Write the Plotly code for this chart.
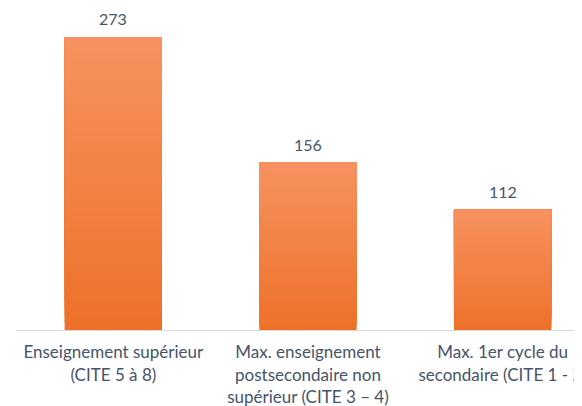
import plotly.graph_objects as go

categories = [
    "Enseignement supérieur<br>(CITE 5 à 8)",
    "Max. enseignement<br>postsecondaire non<br>supérieur (CITE 3 – 4)",
    "Max. 1er cycle du<br>secondaire (CITE 1 - 2)",
]
values = [273, 156, 112]

TOP = (247, 146, 96)
BOTTOM = (237, 113, 41)
N = 40
TXT = "#46546A"
FONT = "Lato"

fig = go.Figure()
xs = list(range(len(categories)))
for k in range(N):
    f = k / (N - 1)
    c = tuple(round(BOTTOM[i] + (TOP[i] - BOTTOM[i]) * f) for i in range(3))
    fig.add_trace(go.Bar(
        x=xs,
        y=[v * (N - k) / N for v in values],
        base=[v * k / N for v in values],
        width=0.5,
        marker=dict(color="rgb(%d,%d,%d)" % c, line=dict(width=0)),
        showlegend=False,
        hoverinfo="skip",
    ))

for x, v in zip(xs, values):
    fig.add_annotation(x=x, y=v, text=str(v), showarrow=False,
                       yanchor="bottom", yshift=7,
                       font=dict(family=FONT, size=16, color=TXT))

fig.update_layout(
    width=574, height=398,
    margin=dict(l=8, r=0, t=0, b=76),
    barmode="overlay",
    paper_bgcolor="white", plot_bgcolor="white",
    xaxis=dict(
        tickmode="array", tickvals=xs, ticktext=categories,
        range=[-0.5, 2.4077],
        showline=True, linecolor="#D9D9D9", linewidth=1,
        showgrid=False, zeroline=False,
        ticks="outside", ticklen=7, tickcolor="rgba(0,0,0,0)",
        tickfont=dict(family=FONT, size=17, color=TXT),
        ticklabeloverflow="allow",
        tickangle=0, automargin=False,
    ),
    yaxis=dict(range=[0, 300.0], visible=False, showgrid=False, zeroline=False),
)

fig.write_html("out.html")
